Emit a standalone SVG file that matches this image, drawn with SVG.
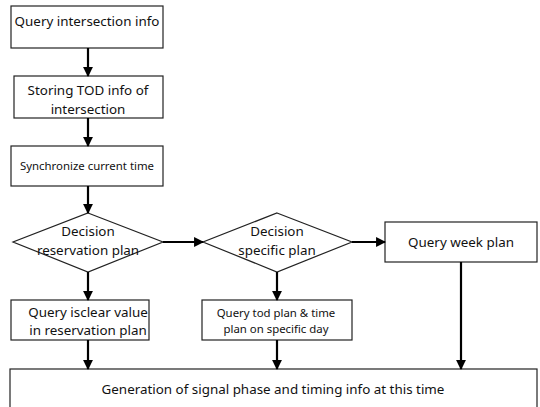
<svg xmlns="http://www.w3.org/2000/svg" width="540" height="407" viewBox="0 0 540 407">
<defs>
<marker id="ah" viewBox="0 0 10 10" refX="9" refY="5" markerWidth="4.5" markerHeight="4.5" orient="auto" markerUnits="strokeWidth">
<path d="M0,0 L10,5 L0,10 z" fill="#000"/>
</marker>
</defs>
<style>
.n{fill:#fff;stroke:#222;stroke-width:1.2}
.t{font-family:"Noto Sans","Open Sans",sans-serif;font-size:13.4px;fill:#111;text-anchor:middle}
.s{font-size:11.4px}
.c{stroke:#000;stroke-width:2.2;fill:none;marker-end:url(#ah)}
</style>
<rect width="540" height="407" fill="#fff"/>
<g id="n1"><rect class="n" x="11" y="6" width="152" height="42"/><text class="t" x="87" y="26">Query intersection info</text></g>
<g id="n2"><rect class="n" x="14" y="76" width="149" height="42"/><text class="t" x="88" y="95">Storing TOD info of</text><text class="t" x="88" y="114">intersection</text></g>
<g id="n3"><rect class="n" x="11" y="146" width="152" height="40"/><text class="t s" x="87" y="170">Synchronize current time</text></g>
<g id="n4"><polygon class="n" points="88,213 163,242 88,272 13,242"/><text class="t" x="88" y="236">Decision</text><text class="t" x="88" y="255">reservation plan</text></g>
<g id="n5"><polygon class="n" points="277,213 352,242 277,272 203,242"/><text class="t" x="277" y="236">Decision</text><text class="t" x="277" y="255">specific plan</text></g>
<g id="n6"><rect class="n" x="385" y="222" width="152" height="40"/><text class="t" x="461" y="247">Query week plan</text></g>
<g id="n7"><rect class="n" x="11" y="300" width="138" height="40"/><text class="t" x="88" y="317">Query isclear value</text><text class="t" x="88" y="335">in reservation plan</text></g>
<g id="n8"><rect class="n" x="202" y="300" width="150" height="40"/><text class="t s" x="276" y="317">Query tod plan &amp; time</text><text class="t s" x="276" y="333">plan on specific day</text></g>
<g id="n9"><rect class="n" x="10" y="369" width="527" height="50"/><text class="t" x="273" y="394">Generation of signal phase and timing info at this time</text></g>
<g id="edges">
<line class="c" x1="88" y1="48" x2="88" y2="76"/>
<line class="c" x1="88" y1="118" x2="88" y2="146"/>
<line class="c" x1="88" y1="186" x2="88" y2="213"/>
<line class="c" x1="163" y1="242" x2="203" y2="242"/>
<line class="c" x1="352" y1="242" x2="385" y2="242"/>
<line class="c" x1="88" y1="272" x2="88" y2="300"/>
<line class="c" x1="277" y1="272" x2="277" y2="300"/>
<line class="c" x1="88" y1="340" x2="88" y2="369"/>
<line class="c" x1="277" y1="340" x2="277" y2="369"/>
<line class="c" x1="461" y1="262" x2="461" y2="369"/>
</g>
</svg>
